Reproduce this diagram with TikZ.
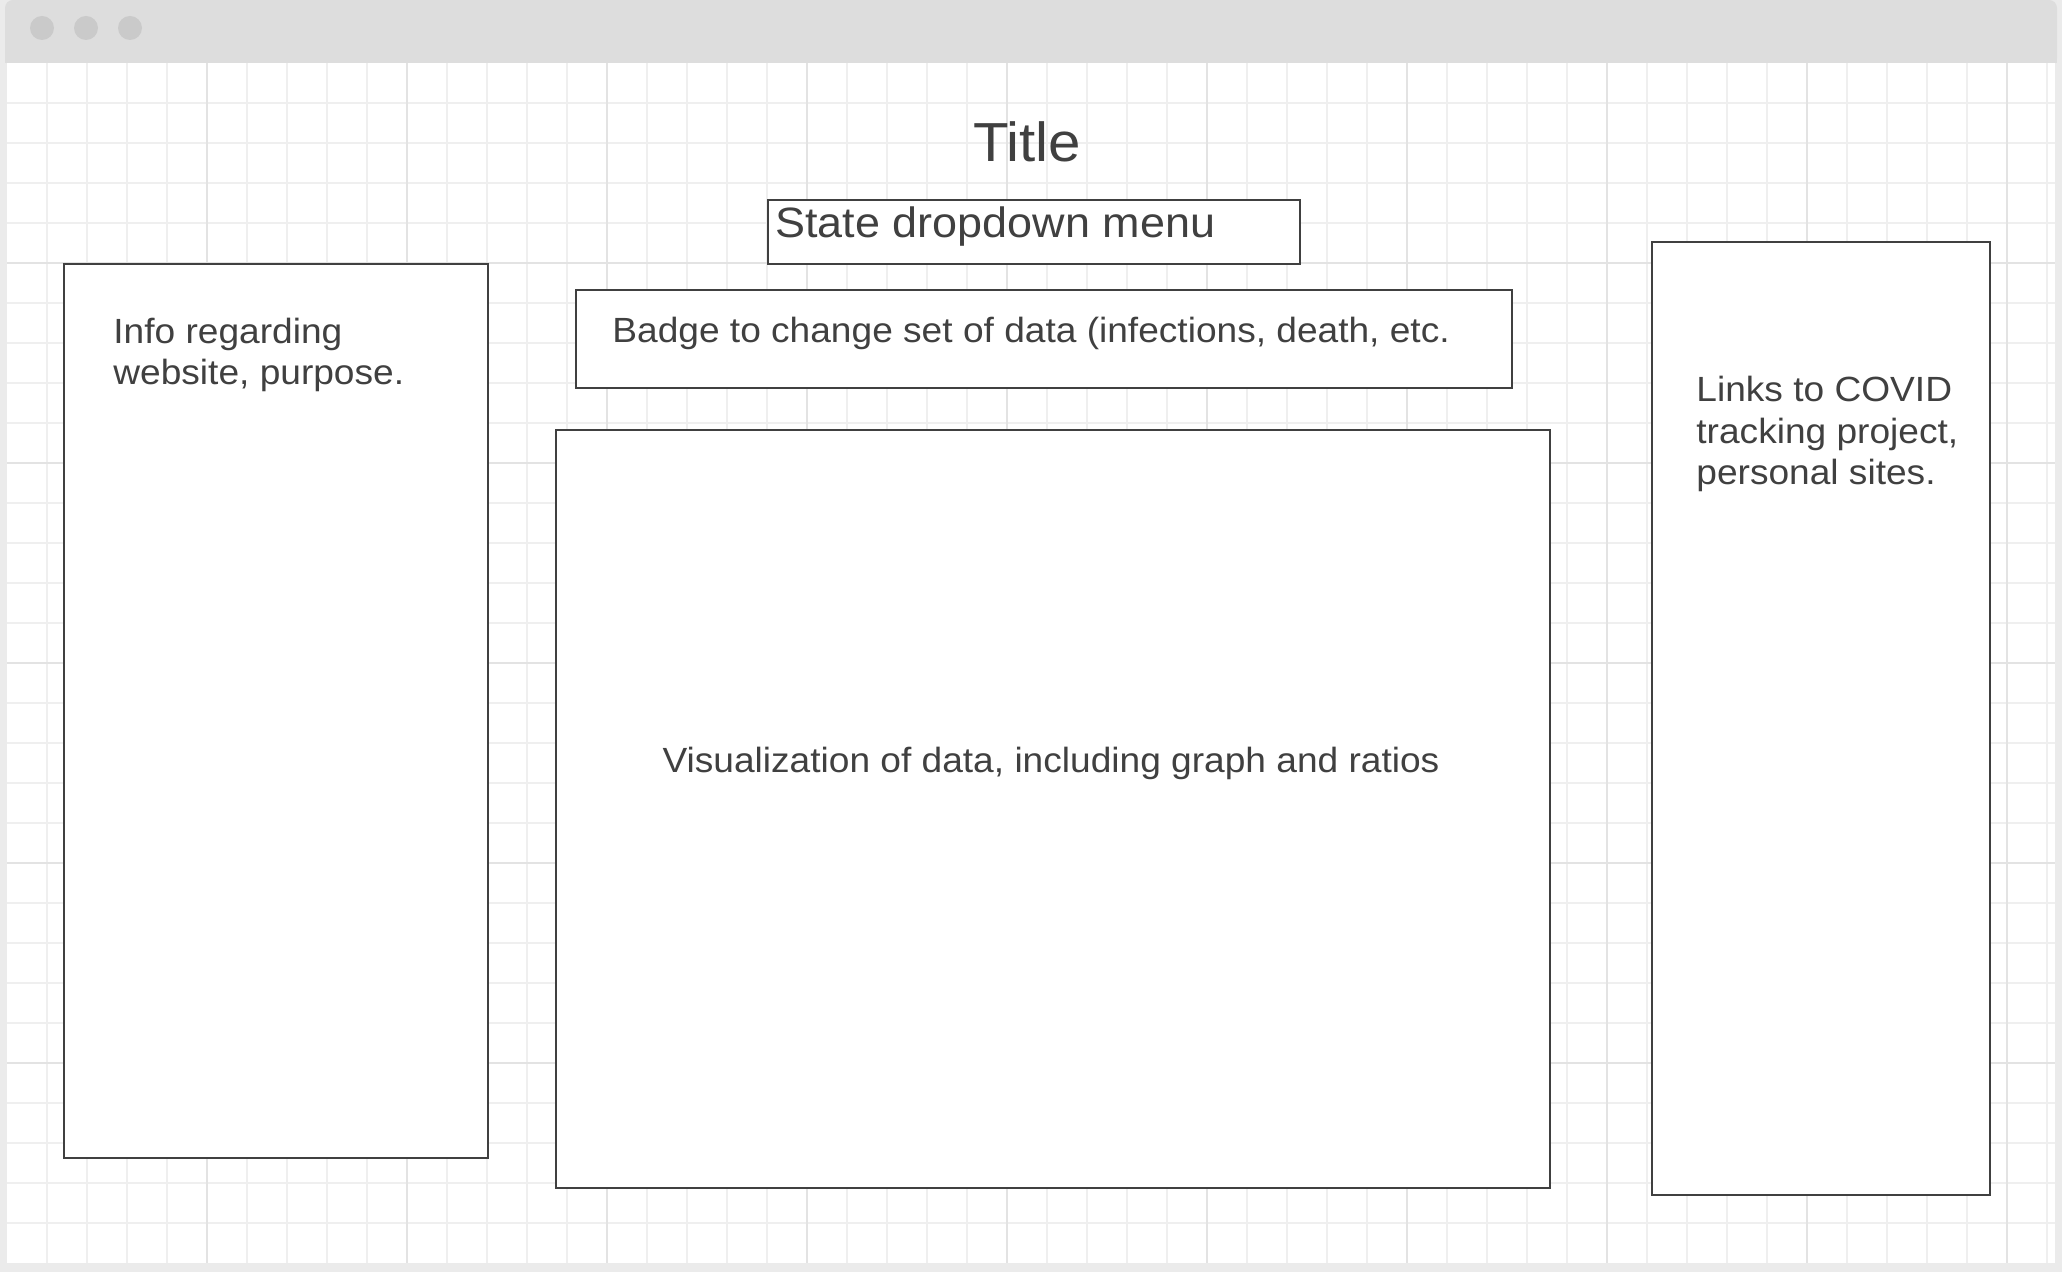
\documentclass[tikz,border=0pt]{standalone}
\usepackage{fontspec}
\setmainfont{Liberation Sans}
\newfontfamily\widesans[FakeStretch=1.06]{Liberation Sans}
\definecolor{ink}{HTML}{404040}
\definecolor{frame}{HTML}{EBEBEB}
\definecolor{bar}{HTML}{DDDDDD}
\definecolor{dot}{HTML}{CACACA}
\definecolor{gridminor}{HTML}{EFEFEF}
\definecolor{gridmajor}{HTML}{E3E3E3}
\begin{document}
\begin{tikzpicture}[x=0.5pt,y=-0.5pt,
  panel/.style={draw=ink, line width=0.85pt, fill=white, inner sep=0pt, anchor=north west},
  label/.style={text=ink, inner sep=0pt, align=left},
  body/.style={label, font=\widesans\fontsize{17.5}{20.8}\selectfont},
  minorline/.style={draw=gridminor, line width=0.65pt},
  majorline/.style={draw=gridmajor, line width=0.65pt},
  winbtn/.style={circle, fill=dot, minimum size=12pt, inner sep=0pt}]

% page and window frame
\fill[frame] (0,0) rectangle (2062,1272);
\useasboundingbox (0,0) rectangle (2062,1272);
\fill[bar, rounded corners=4pt] (5,0) rectangle (2057,66);
\fill[bar] (5,30) rectangle (2057,63);
\fill[white] (7,63) rectangle (2055,1263);

% window buttons
\node[winbtn] (btnA) at (42,28) {};
\node[winbtn] (btnB) at (86,28) {};
\node[winbtn] (btnC) at (130,28) {};

% background grid
\foreach \k in {1,...,51} {
  \pgfmathtruncatemacro\gx{7+40*\k}
  \draw[minorline] (\gx,63) -- (\gx,1263);
}
\foreach \k in {1,...,29} {
  \pgfmathtruncatemacro\gy{63+40*\k}
  \draw[minorline] (7,\gy) -- (2055,\gy);
}
\foreach \k in {1,...,10} {
  \pgfmathtruncatemacro\gx{7+200*\k}
  \draw[majorline] (\gx,63) -- (\gx,1263);
}
\foreach \k in {1,...,5} {
  \pgfmathtruncatemacro\gy{63+200*\k}
  \draw[majorline] (7,\gy) -- (2055,\gy);
}

% page sections
\node[panel, minimum width=212pt, minimum height=447pt] (info) at (63,263) {};
\node[panel, minimum width=266pt, minimum height=32pt] (menu) at (767,199) {};
\node[panel, minimum width=468pt, minimum height=49pt] (badge) at (575,289) {};
\node[panel, minimum width=497pt, minimum height=379pt] (viz) at (555,429) {};
\node[panel, minimum width=169pt, minimum height=476.5pt] (links) at (1651,241) {};

% texts
\node[label, font=\widesans\fontsize{27.5}{32}\selectfont, anchor=base] (title) at (1027,162) {Title};
\node[label, font=\widesans\fontsize{21.2}{25}\selectfont, anchor=base west] (menutext) at (775,238) {State dropdown menu};
\node[body, anchor=base west] (badgetext) at (612,343) {Badge to change set of data (infections, death, etc.};
\node[body, anchor=base west] (infotext) at (113,385) {Info regarding\\website, purpose.};
\node[body, anchor=base west] (linkstext) at (1696,485) {Links to COVID\\tracking project,\\personal sites.};
\node[body, anchor=base] (viztext) at (1051,772) {Visualization of data, including graph and ratios};
\end{tikzpicture}
\end{document}
